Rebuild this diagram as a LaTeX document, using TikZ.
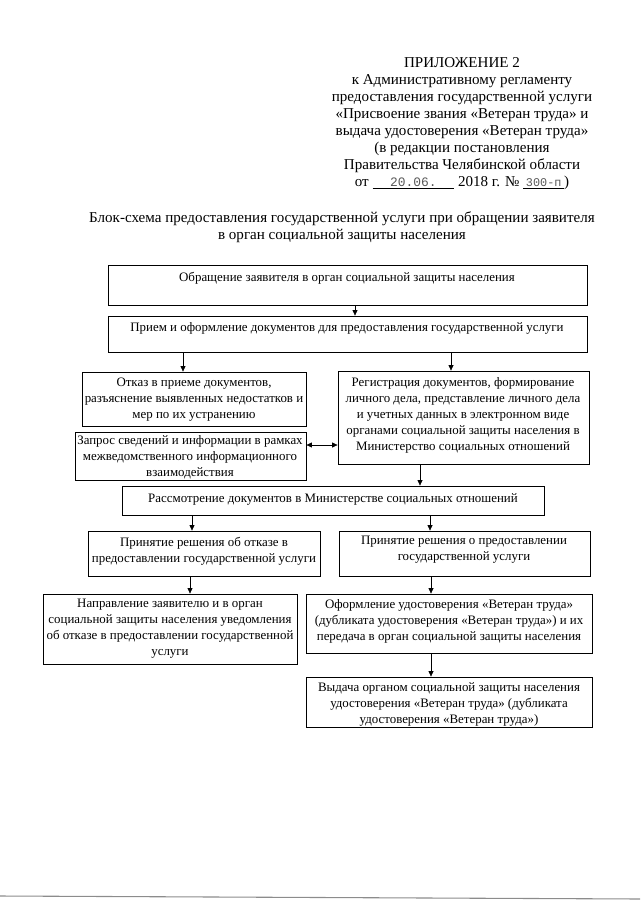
\documentclass[tikz,border=0pt]{standalone}
\usepackage{fontspec}
\setmainfont{Liberation Serif}
\newfontfamily\stampfont{Liberation Mono}
\usetikzlibrary{arrows.meta,fit}
\begin{document}
\begin{tikzpicture}[x=0.9297pt,y=-0.9297pt,
  bx/.style={draw, line width=0.75pt, inner sep=0pt},
  tx/.style={align=center, inner sep=0pt, font=\fontsize{12}{14.9}\selectfont},
  hd/.style={align=center, inner sep=0pt, font=\fontsize{14}{15.8}\selectfont},
  arr/.style={-{Triangle[length=5pt,width=4.5pt]}, line width=0.6pt},
  darr/.style={{Triangle[length=5pt,width=4.5pt]}-{Triangle[length=5pt,width=4.5pt]}, line width=0.6pt}
]
\useasboundingbox (0,0) rectangle (640,905);

% header
\node[hd, anchor=north] (hdr) at (462,57) {ПРИЛОЖЕНИЕ 2\\
к Административному регламенту\\
предоставления государственной услуги\\
«Присвоение звания «Ветеран труда» и\\
выдача удостоверения «Ветеран труда»\\
(в редакции постановления\\
Правительства Челябинской области\\
от \underline{\makebox[76pt]{\color{black!65}\stampfont\fontsize{12}{12}\selectfont 20.06.}} 2018 г. № \underline{\makebox[38pt]{\color{black!65}\stampfont\fontsize{11}{11}\selectfont 300-п}})};

% title
\node[hd, anchor=north] (ttl) at (342,212) {Блок-схема предоставления государственной услуги при обращении заявителя\\
в орган социальной защиты населения};

% boxes
\node[bx, fit={(108,265) (587,305)}] (b1) {};
\node[bx, fit={(108,316) (587,352)}] (b2) {};
\node[bx, fit={(82,372) (306,426)}] (otk) {};
\node[bx, fit={(338,371) (589,464)}] (reg) {};
\node[bx, fit={(75,432) (306,480)}] (zap) {};
\node[bx, fit={(122,486) (544,515)}] (ras) {};
\node[bx, fit={(88,531) (320,576)}] (pr1) {};
\node[bx, fit={(339,531) (590,576)}] (pr2) {};
\node[bx, fit={(43,594) (297,664)}] (nap) {};
\node[bx, fit={(306,594) (592,653)}] (ofo) {};
\node[bx, fit={(306,677) (592,727)}] (vyd) {};

% texts
\node[tx] (b1t) at (347,278) {Обращение заявителя в орган социальной защиты населения};
\node[tx] (b2t) at (347,328) {Прием и оформление документов для предоставления государственной услуги};
\node[tx] (otkt) at (194,400) {Отказ в приеме документов,\\ разъяснение выявленных недостатков и\\ мер по их устранению};
\node[tx] (regt) at (463,415) {Регистрация документов, формирование\\ личного дела, представление личного дела\\ и учетных данных в электронном виде\\ органами социальной защиты населения в\\ Министерство социальных отношений};
\node[tx] (zapt) at (190,457) {Запрос сведений и информации в рамках\\ межведомственного информационного\\ взаимодействия};
\node[tx] (rast) at (333,499) {Рассмотрение документов в Министерстве социальных отношений};
\node[tx] (pr1t) at (204,551) {Принятие решения об отказе в\\ предоставлении государственной услуги};
\node[tx] (pr2t) at (464,550) {Принятие решения о предоставлении\\ государственной услуги};
\node[tx] (napt) at (170,629) {Направление заявителю и в орган\\ социальной защиты населения уведомления\\ об отказе в предоставлении государственной\\ услуги};
\node[tx] (ofot) at (449,621) {Оформление удостоверения «Ветеран труда»\\ (дубликата удостоверения «Ветеран труда») и их\\ передача в орган социальной защиты населения};
\node[tx] (vydt) at (449,704) {Выдача органом социальной защиты населения\\ удостоверения «Ветеран труда» (дубликата\\ удостоверения «Ветеран труда»)};

% column / row helpers
\coordinate (c355) at (355,0);
\coordinate (c183) at (183,0);
\coordinate (c451) at (451,0);
\coordinate (c420) at (420,0);
\coordinate (c192) at (192,0);
\coordinate (c430) at (430,0);
\coordinate (c190) at (190,0);
\coordinate (c431) at (431,0);
\coordinate (r445) at (0,445);

% connectors
\draw[arr] (b1.south -| c355) -- (b2.north -| c355);
\draw[arr] (b2.south -| c183) -- (otk.north -| c183);
\draw[arr] (b2.south -| c451) -- (reg.north -| c451);
\draw[darr] (zap.east |- r445) -- (reg.west |- r445);
\draw[arr] (reg.south -| c420) -- (ras.north -| c420);
\draw[arr] (ras.south -| c192) -- (pr1.north -| c192);
\draw[arr] (ras.south -| c430) -- (pr2.north -| c430);
\draw[arr] (pr1.south -| c190) -- (nap.north -| c190);
\draw[arr] (pr2.south -| c431) -- (ofo.north -| c431);
\draw[arr] (ofo.south -| c431) -- (vyd.north -| c431);

% scan edge line at bottom
\draw[black!45, line width=1pt] (0,896) -- (640,899);
\end{tikzpicture}
\end{document}
